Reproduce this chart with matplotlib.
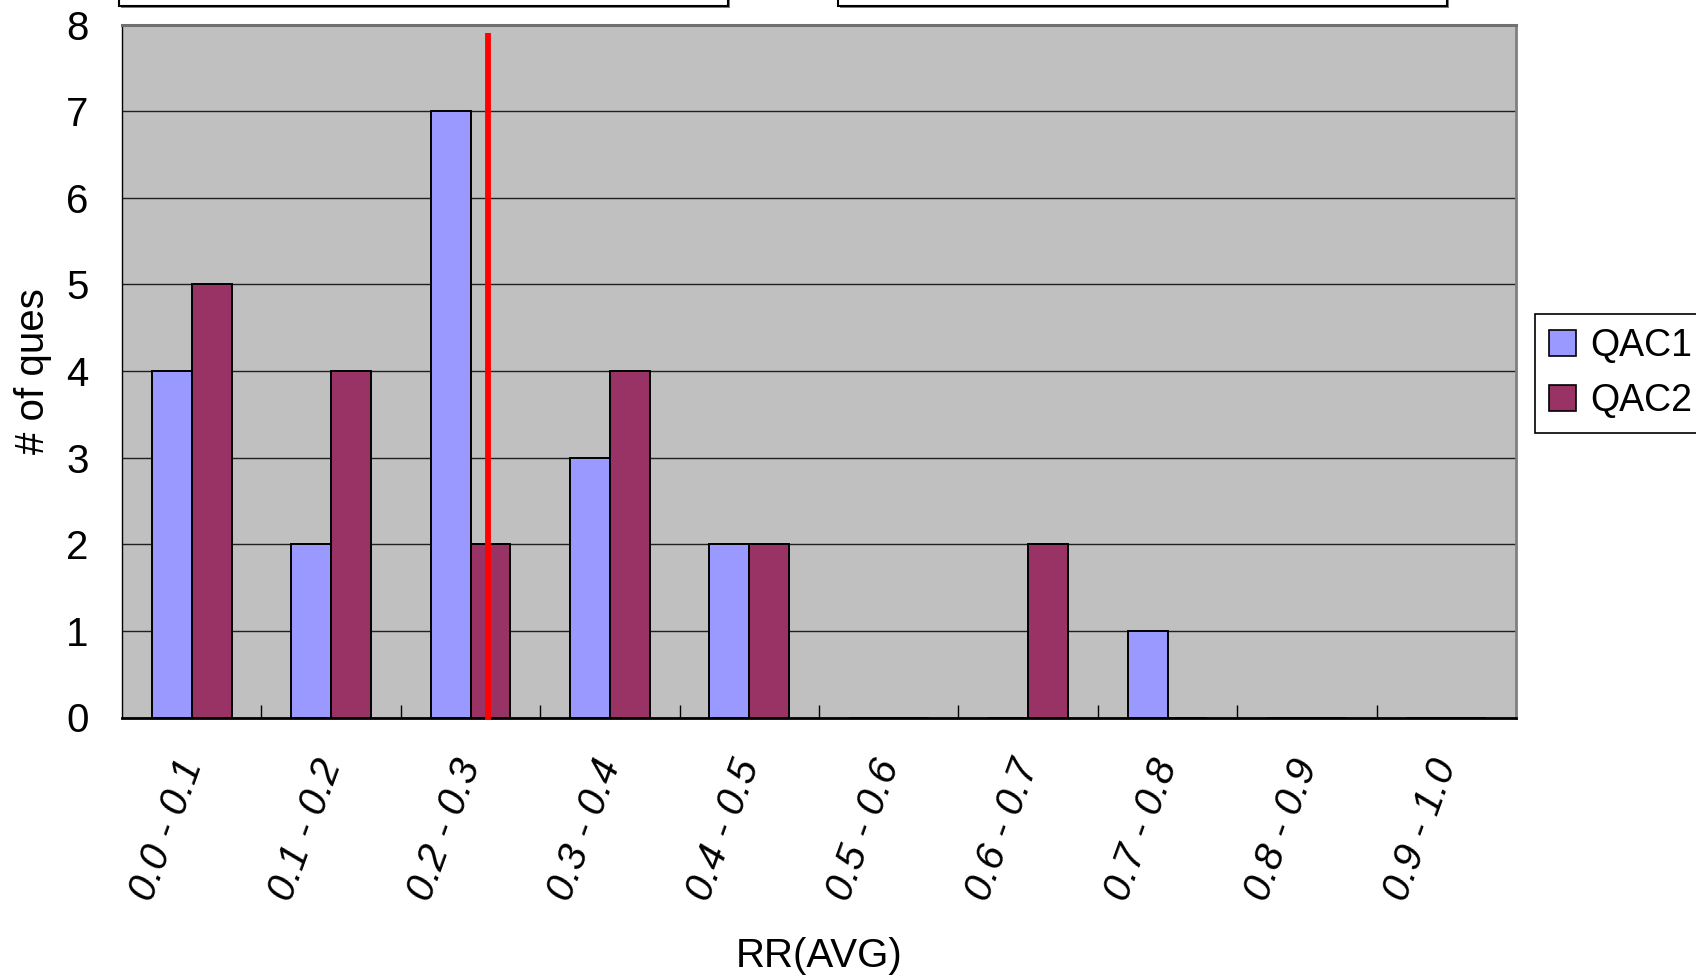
import matplotlib
matplotlib.use("Agg")
import matplotlib.pyplot as plt
from matplotlib.patches import Rectangle, Patch
import numpy as np

# --- data -------------------------------------------------------------
categories = ["0.0 - 0.1", "0.1 - 0.2", "0.2 - 0.3", "0.3 - 0.4", "0.4 - 0.5",
              "0.5 - 0.6", "0.6 - 0.7", "0.7 - 0.8", "0.8 - 0.9", "0.9 - 1.0"]
qac1 = [4, 2, 7, 3, 2, 0, 0, 1, 0, 0]
qac2 = [5, 4, 2, 4, 2, 0, 2, 0, 0, 0]
series_names = ["QAC1", "QAC2"]
threshold_rr = 0.2626          # vertical marker position on the RR axis
threshold_span = (-0.03, 7.9)  # vertical extent of the marker
y_ticks = list(range(0, 9))

# --- style ------------------------------------------------------------
plt.rcParams['font.family'] = ['Liberation Sans', 'DejaVu Sans']
FS = 29
c1, c2 = '#9999FF', '#993366'
bg = '#C0C0C0'

W, H = 1696, 977
fig = plt.figure(figsize=(W / 100, H / 100), dpi=100)
ax = fig.add_axes([122 / W, 1 - 717.5 / H, (1516 - 122) / W, (717.5 - 24.5) / H])
ax.set_facecolor(bg)

bin_w = 0.1
centers = np.arange(len(categories)) * bin_w + bin_w / 2
bar_w = bin_w / 3.5

ax.set_axisbelow(True)
ax.yaxis.grid(True, color='#202020', linewidth=1.0)
ax.bar(centers - bar_w / 2, qac1, width=bar_w, color=c1, edgecolor='black', linewidth=1.4, zorder=2)
ax.bar(centers + bar_w / 2, qac2, width=bar_w, color=c2, edgecolor='black', linewidth=1.4, zorder=2)

ax.vlines(threshold_rr, threshold_span[0], threshold_span[1], color='#FF0000', linewidth=4.2, zorder=4, clip_on=False)

ax.set_xlim(0, 1.0)
ax.set_ylim(0, 8)
ax.set_yticks(y_ticks)
ax.set_yticklabels([str(v) for v in y_ticks], fontsize=FS)
ax.tick_params(axis='y', length=0, pad=24)

ax.set_xticks(centers)
ax.set_xticklabels(categories, fontsize=FS, rotation=70, ha='right', va='center',
                   rotation_mode='anchor', fontstyle='italic')
ax.tick_params(axis='x', which='major', length=0, pad=31)
ax.set_xticks(np.arange(1, len(categories)) * bin_w, minor=True)
ax.tick_params(axis='x', which='minor', direction='in', length=9.5, width=1, color='black')

for side in ('left', 'bottom'):
    ax.spines[side].set_color('black')
ax.spines['bottom'].set_linewidth(2)
ax.spines['left'].set_linewidth(1)
ax.spines['top'].set_color('#707070')
ax.spines['top'].set_linewidth(2.2)
ax.spines['right'].set_color('#808080')
ax.spines['right'].set_linewidth(2)

ax.set_xlabel("RR(AVG)", fontsize=FS, labelpad=0)
ax.xaxis.set_label_coords(0.5, (717.5 - 956) / (717.5 - 24.5), transform=ax.transAxes)
ax.xaxis.label.set_va('center')
ax.set_ylabel("# of ques", fontsize=FS)
ax.yaxis.set_label_coords((33 - 122) / (1516 - 122), 0.5, transform=ax.transAxes)
ax.yaxis.label.set_va('center')

# text boxes along the top edge
for x0, x1 in [(119, 728), (838, 1447)]:
    fig.patches.append(Rectangle((x0 / W + 1.5 / W, 1 - 7.5 / H), (x1 - x0) / W, 40 / H,
                                 transform=fig.transFigure, facecolor='#808080',
                                 edgecolor='none', zorder=1))
    fig.patches.append(Rectangle((x0 / W, 1 - 6 / H), (x1 - x0) / W, 40 / H,
                                 transform=fig.transFigure, facecolor='white',
                                 edgecolor='black', linewidth=1.5, zorder=2))

handles = [Patch(facecolor=c1, edgecolor='black', linewidth=1.2),
           Patch(facecolor=c2, edgecolor='black', linewidth=1.2)]
leg = fig.legend(handles, series_names, loc='upper left',
                 bbox_to_anchor=(1535 / W, 1 - 314 / H), bbox_transform=fig.transFigure,
                 borderaxespad=0, fontsize=27, frameon=True, fancybox=False,
                 edgecolor='black', framealpha=1, borderpad=0.38,
                 handlelength=0.7, handleheight=0.7, handletextpad=0.38,
                 labelspacing=0.5)
leg.get_frame().set_linewidth(1.2)

fig.savefig("out.png", dpi=100, facecolor='white')
